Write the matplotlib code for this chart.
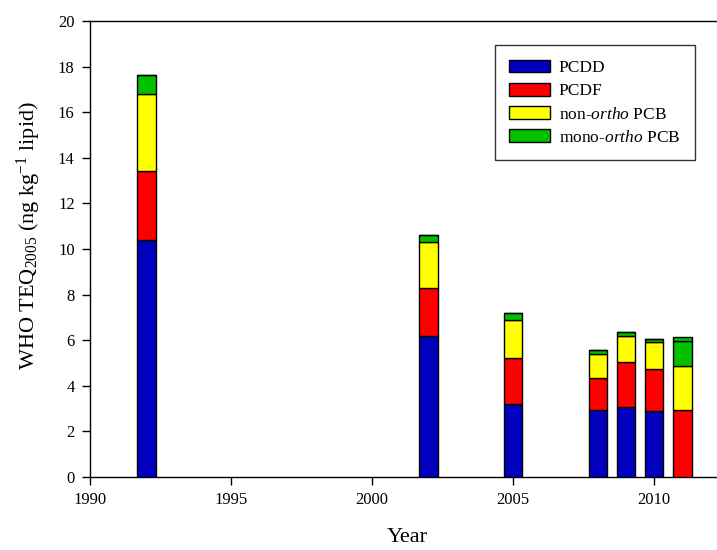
import matplotlib
matplotlib.use("Agg")
import matplotlib.pyplot as plt
import numpy as np

plt.rcParams['font.family'] = ['Liberation Serif', 'DejaVu Serif']
plt.rcParams['mathtext.fontset'] = 'custom'
plt.rcParams['mathtext.rm'] = 'Liberation Serif'
plt.rcParams['mathtext.it'] = 'Liberation Serif:italic'
plt.rcParams['mathtext.bf'] = 'Liberation Serif:bold'

years = [1992, 2002, 2005, 2008, 2009, 2010, 2011]
pcdd = [10.4, 6.2, 3.2, 2.95, 3.05, 2.9, 0.0]
pcdf = [3.0, 2.1, 2.0, 1.4, 2.0, 1.85, 2.95]
non_ortho = [3.4, 2.0, 1.7, 1.05, 1.15, 1.15, 1.9]
mono_ortho = [0.85, 0.3, 0.3, 0.15, 0.18, 0.17, 1.12]
mono_ortho_extra = [0.0, 0.0, 0.0, 0.0, 0.0, 0.0, 0.15]

series = [
    (pcdd, 'PCDD', '#0000BE'),
    (pcdf, 'PCDF', '#FF0000'),
    (non_ortho, r'non-$\it{ortho}$ PCB', '#FFFF00'),
    (mono_ortho, r'mono-$\it{ortho}$ PCB', '#00C000'),
    (mono_ortho_extra, '_nolegend_', '#00C000'),
]

fig = plt.figure(figsize=(7.17, 5.5), dpi=100)
ax = fig.add_axes([90/717, 73/550, 1 - 90/717 + 0.01, (477 - 21)/550])

bottom = np.zeros(len(years))
handles = []
for vals, lab, col in series:
    vals = np.array(vals)
    b = ax.bar(years, vals, width=0.65, bottom=bottom, color=col,
               edgecolor='black', linewidth=1.0, label=lab, zorder=3)
    if lab != '_nolegend_':
        handles.append(b)
    bottom = bottom + vals

ax.set_xlim(1990, 1990 + (717 - 90 + 7) / 28.2)
ax.set_ylim(0, 20)
ax.set_xticks([1990, 1995, 2000, 2005, 2010])
ax.set_yticks(np.arange(0, 21, 2))
ax.tick_params(direction='out', length=6, width=1, labelsize=12, pad=5)
ax.spines['right'].set_visible(False)
for s in ['left', 'bottom', 'top']:
    ax.spines[s].set_linewidth(1.0)

ax.set_ylabel(r'WHO TEQ$_{2005}$ (ng kg$^{-1}$ lipid)', fontsize=16)
ax.yaxis.set_label_coords(-0.074, 0.53)
ax.set_xlabel('Year', fontsize=16, labelpad=14)

leg = ax.legend(handles=handles, loc='upper right',
                bbox_to_anchor=(695/717, (550 - 45)/550),
                bbox_transform=fig.transFigure,
                fontsize=12.5, frameon=True, fancybox=False, edgecolor='black',
                handlelength=2.35, handleheight=0.75, labelspacing=0.39,
                borderpad=0.85, handletextpad=0.5, borderaxespad=0)
leg.get_frame().set_linewidth(1.0)

fig.savefig('out.png', dpi=100)
